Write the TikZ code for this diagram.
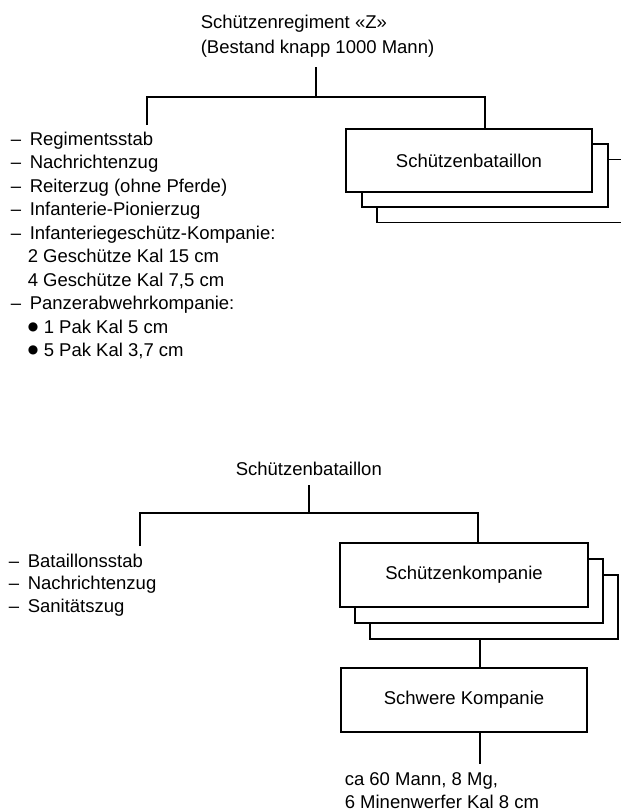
\documentclass[tikz,border=0pt]{standalone}
\usepackage{fontspec}
\setmainfont{Liberation Sans}
\newfontfamily\dejavu{DejaVu Sans}
\begin{document}
\begin{tikzpicture}[x=1pt,y=-1pt,line width=1.6pt,
  txt/.style={anchor=base west,inner sep=0pt,font=\fontsize{18.5}{22}\selectfont},
  unitbox/.style={draw,fill=white,line width=1.6pt,minimum width=246pt,minimum height=63pt,inner sep=0pt,font=\fontsize{18.5}{22}\selectfont},
  conn/.style={draw,line width=1.6pt}]
\useasboundingbox (0,0) rectangle (621,812);
\clip (0,0) rectangle (621,812);
\newcommand\dsh{\makebox[19pt][l]{–}}
\newcommand\bul{\hspace*{19pt}\makebox[16pt][l]{\raisebox{3pt}{\dejavu\fontsize{12}{12}\selectfont ●}}}
% ---- top title
\node[txt] (t1) at (200,28) {Schützenregiment «Z»};
\node[txt] (t2) at (200,53) {(Bestand knapp 1000 Mann)};
% ---- top boxes
\node[unitbox] (sb3) at (500,191) {};
\node[unitbox] (sb2) at (485,175.5) {};
\node[unitbox] (sb1) at (469,160.5) {Schützenbataillon};
% ---- top list
\node[txt] (r1) at (10,145) {\dsh Regimentsstab};
\node[txt] (r2) at (10,168.5) {\dsh Nachrichtenzug};
\node[txt] (r3) at (10,192) {\dsh Reiterzug (ohne Pferde)};
\node[txt] (r4) at (10,215.5) {\dsh Infanterie-Pionierzug};
\node[txt] (r5) at (10,239) {\dsh Infanteriegeschütz-Kompanie:};
\node[txt] (r6) at (27,262.5) {2 Geschütze Kal 15 cm};
\node[txt] (r7) at (27,286) {4 Geschütze Kal 7,5 cm};
\node[txt] (r8) at (10,309.5) {\dsh Panzerabwehrkompanie:};
\node[txt] (r9) at (8,333) {\bul 1 Pak Kal 5 cm};
\node[txt] (r10) at (8,356.5) {\bul 5 Pak Kal 3,7 cm};
% ---- top connectors
\coordinate (ts) at (316,67);
\coordinate (tj) at (316,97);
\coordinate (tl) at (147,125);
\coordinate (tr) at (485,97);
\draw[conn] (ts) -- (tj);
\draw[conn] (tl) |- (tr) -- (sb1.north -| tr);
% ---- bottom title
\node[txt] (b0) at (235,475) {Schützenbataillon};
% ---- bottom boxes
\node[unitbox,minimum width=248pt,minimum height=64pt] (sk3) at (494,607) {};
\node[unitbox,minimum width=248pt,minimum height=64pt] (sk2) at (479,591) {};
\node[unitbox,minimum width=248pt,minimum height=64pt] (sk1) at (464,575) {Schützenkompanie};
\node[unitbox,minimum width=246pt,minimum height=64pt] (sw) at (464,700) {Schwere Kompanie};
% ---- bottom list
\node[txt] (q1) at (8,567) {\dsh Bataillonsstab};
\node[txt] (q2) at (8,589.5) {\dsh Nachrichtenzug};
\node[txt] (q3) at (8,612) {\dsh Sanitätszug};
% ---- bottom text
\node[txt] (n1) at (344,785) {ca 60 Mann, 8 Mg,};
\node[txt] (n2) at (344,808) {6 Minenwerfer Kal 8 cm};
% ---- bottom connectors
\coordinate (bs) at (309,485);
\coordinate (bj) at (309,513);
\coordinate (bl) at (140,546);
\coordinate (br) at (478,513);
\coordinate (mx) at (480,0);
\coordinate (be) at (480,764);
\draw[conn] (bs) -- (bj);
\draw[conn] (bl) |- (br) -- (sk1.north -| br);
\draw[conn] (sk3.south -| mx) -- (sw.north -| mx);
\draw[conn] (sw.south -| mx) -- (be);
\end{tikzpicture}
\end{document}
